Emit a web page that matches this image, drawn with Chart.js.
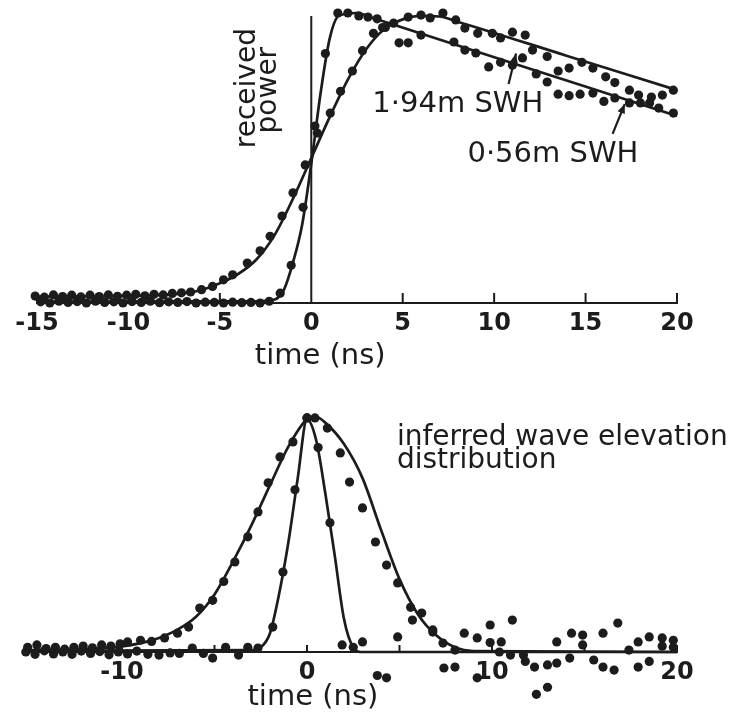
<!DOCTYPE html>
<html>
<head>
<meta charset="utf-8">
<script src="https://cdn.jsdelivr.net/npm/chart.js@4.4.1/dist/chart.umd.min.js"></script>
<style>
html,body{margin:0;padding:0;background:#fff;}
#wrap{position:relative;width:731px;height:714px;overflow:hidden;background:#fff;}
canvas{position:absolute;left:0;}
#c1{top:0;}
#c2{top:372px;}
</style>
</head>
<body>
<div id="wrap">
<canvas id="c1" width="731" height="372"></canvas>
<canvas id="c2" width="731" height="342"></canvas>
</div>
<script>
// ---------------- DATA ----------------
// time axis (ns)
const topTicks = [-15, -10, -5, 0, 5, 10, 15, 20];
const bottomTicks = [-10, 0, 10, 20];
const topTickMarks = [-15, -10, -5, 5, 10, 15, 20];
const bottomTickMarks = [-10, -5, 0, 5, 10, 15, 20];

// Upper panel: received power (normalised), [time ns, power]
const fit194 = [[-15,0.022],[-9,0.026],[-7,0.033],[-6,0.045],[-5,0.068],[-4,0.10],[-3,0.15],[-2,0.235],[-1,0.36],[0,0.50],[1,0.64],[2,0.77],[3,0.875],[4,0.945],[5,0.978],[6,0.99],[7,0.988],[8,0.97],[14,0.852],[20,0.734]];
const fit056 = [[-15,0.005],[-3,0.006],[-2,0.012],[-1.5,0.045],[-1,0.14],[-0.5,0.27],[0,0.48],[0.5,0.72],[1,0.91],[1.5,0.99],[2.5,1.0],[3.5,0.98],[12,0.807],[20,0.645]];
const dots194 = [[-15.1,0.024],[-14.6,0.02],[-14.1,0.028],[-13.6,0.022],[-13.1,0.027],[-12.6,0.021],[-12.1,0.027],[-11.6,0.022],[-11.1,0.028],[-10.6,0.023],[-10.1,0.027],[-9.6,0.03],[-9.1,0.025],[-8.6,0.03],[-8.1,0.028],[-7.6,0.033],[-7.1,0.035],[-6.6,0.038],[-6.0,0.046],[-5.4,0.057],[-4.8,0.08],[-4.3,0.097],[-3.5,0.138],[-2.8,0.18],[-2.25,0.23],[-1.6,0.30],[-1.0,0.38],[-0.33,0.476],[0.33,0.586],[1.04,0.655],[1.6,0.73],[2.25,0.80],[2.8,0.87],[3.4,0.93],[3.9,0.95],[4.5,0.965],[5.3,0.986],[6.0,0.993],[6.5,0.983],[7.2,1.0],[7.9,0.976],[8.4,0.948],[9.1,0.93],[9.9,0.93],[10.35,0.914],[11.0,0.934],[11.7,0.924],[12.1,0.872],[12.9,0.85],[13.5,0.80],[14.1,0.81],[14.8,0.83],[15.4,0.81],[16.1,0.78],[16.6,0.76],[17.4,0.734],[17.9,0.717],[18.6,0.71],[19.2,0.717],[19.8,0.734]];
const dots056 = [[-14.8,0.004],[-14.3,0.0],[-13.8,0.006],[-13.3,0.002],[-12.8,0.005],[-12.3,0.0],[-11.8,0.006],[-11.3,0.002],[-10.8,0.004],[-10.3,0.0],[-9.8,0.005],[-9.3,0.002],[-8.8,0.006],[-8.3,0.001],[-7.8,0.004],[-7.3,0.002],[-6.8,0.005],[-6.3,0.0],[-5.8,0.003],[-5.3,0.002],[-4.8,0.0],[-4.3,0.003],[-3.8,0.001],[-3.3,0.002],[-2.8,0.0],[-2.3,0.006],[-1.7,0.034],[-1.1,0.13],[-0.45,0.33],[0.2,0.61],[0.77,0.86],[1.45,1.0],[2.0,1.0],[2.6,0.99],[3.1,0.986],[3.6,0.98],[4.05,0.95],[4.8,0.897],[5.3,0.897],[6.0,0.924],[7.8,0.90],[8.4,0.872],[9.0,0.862],[9.7,0.814],[10.35,0.83],[11.0,0.82],[11.55,0.845],[12.3,0.79],[12.9,0.762],[13.5,0.72],[14.1,0.715],[14.7,0.72],[15.4,0.724],[16.0,0.695],[16.6,0.707],[17.4,0.69],[18.0,0.69],[18.5,0.69],[19.0,0.672],[19.8,0.655]];
const zeroLine = [[0,0],[0,0.99]];

// Lower panel: inferred wave elevation distribution, [time ns, density]
const fitBroad = [[-15,0.008],[-12,0.012],[-10,0.024],[-9,0.038],[-8,0.06],[-7,0.095],[-6,0.15],[-5,0.245],[-4,0.385],[-3,0.54],[-2,0.71],[-1,0.875],[0,0.99],[0.5,1.0],[1,0.975],[2,0.885],[3,0.74],[4,0.52],[5,0.31],[6,0.16],[7,0.07],[8,0.02],[9,0.004],[20,0.0]];
const fitNarrow = [[-15,0.005],[-3,0.008],[-2.5,0.02],[-2,0.08],[-1.5,0.25],[-1,0.47],[-0.5,0.74],[0,0.99],[0.5,0.9],[1,0.67],[1.5,0.41],[2,0.14],[2.5,0.02],[3,0.0],[20,0.0]];
const dotsBroad = [[-15.1,0.02],[-14.6,0.03],[-14.1,0.015],[-13.6,0.02],[-13.1,0.012],[-12.6,0.02],[-12.1,0.025],[-11.6,0.018],[-11.1,0.03],[-10.6,0.025],[-10.1,0.035],[-9.7,0.043],[-9.0,0.05],[-8.4,0.045],[-7.7,0.06],[-7.0,0.08],[-6.4,0.106],[-5.8,0.187],[-5.1,0.22],[-4.5,0.30],[-3.9,0.383],[-3.2,0.49],[-2.65,0.596],[-2.1,0.72],[-1.46,0.83],[-0.76,0.894],[0,0.996],[0.43,0.996],[1.1,0.953],[1.8,0.847],[2.3,0.723],[3.0,0.613],[3.7,0.468],[4.3,0.37],[4.9,0.294],[5.6,0.19],[5.7,0.136],[6.2,0.166],[6.8,0.094],[7.35,0.038],[8.0,0.008]];
const dotsNarrow = [[-15.2,0.0],[-14.7,-0.01],[-14.2,0.005],[-13.7,-0.008],[-13.2,0.0],[-12.7,-0.01],[-12.2,0.004],[-11.7,-0.006],[-11.2,0.002],[-10.7,-0.012],[-10.2,0.0],[-9.7,-0.008],[-9.2,0.004],[-8.6,-0.01],[-8.0,-0.013],[-7.4,-0.004],[-6.9,-0.006],[-6.2,0.017],[-5.6,-0.006],[-5.1,-0.026],[-4.4,0.02],[-3.7,-0.013],[-3.2,0.02],[-2.65,0.017],[-1.85,0.106],[-1.3,0.34],[-0.65,0.69],[0,0.996],[0.6,0.87],[1.24,0.55],[1.9,0.03],[2.5,0.02],[3.0,0.043],[3.8,-0.1],[4.3,-0.11],[4.9,0.064],[6.8,0.085],[7.4,-0.068],[8.0,-0.064],[8.5,0.08],[9.2,0.06],[9.2,-0.11],[9.9,0.115],[9.9,0.04],[10.4,0.0],[10.5,0.043],[11.1,0.136],[11.0,-0.013],[11.7,-0.013],[11.8,-0.04],[12.3,-0.064],[12.4,-0.18],[13.0,-0.055],[13.0,-0.15],[13.5,-0.047],[13.5,0.043],[14.2,-0.026],[14.3,0.08],[14.9,0.072],[14.9,0.03],[15.5,-0.034],[16.0,-0.064],[16.6,-0.077],[16.0,0.08],[16.8,0.123],[17.4,0.008],[17.9,0.043],[17.9,-0.064],[18.5,-0.04],[18.5,0.064],[19.2,0.06],[19.8,0.05],[19.2,0.025],[19.8,0.02]];

// ---------------- RENDERING ----------------
const INK = '#1c1c1c';
const FONT = "'DejaVu Sans', sans-serif";
const pts = a => a.map(([x, y]) => ({x, y}));

function lineDs(label, arr, w) {
  return {label, data: pts(arr), showLine: true, pointRadius: 0, borderColor: INK,
          borderWidth: w || 2.7, cubicInterpolationMode: 'monotone', clip: false, fill: false};
}
function dotDs(label, arr) {
  return {label, data: pts(arr), showLine: false, pointRadius: 4.6, pointHoverRadius: 4.6,
          pointBackgroundColor: INK, pointBorderWidth: 0, borderColor: INK, clip: false};
}

function decor(name, cfg) {
  return {
    id: 'decor_' + name,
    afterDatasetsDraw(chart) {
      const {ctx} = chart;
      const X = chart.scales.x, Y = chart.scales.y;
      ctx.save();
      ctx.strokeStyle = INK; ctx.fillStyle = INK;
      ctx.lineWidth = 2;
      const y0 = Y.getPixelForValue(0);
      cfg.tickMarks.forEach(v => {
        const px = X.getPixelForValue(v);
        ctx.beginPath(); ctx.moveTo(px, y0); ctx.lineTo(px, y0 - cfg.tickLen); ctx.stroke();
      });
      (cfg.arrows || []).forEach(a => {
        const x1 = X.getPixelForValue(a.from[0]), y1 = Y.getPixelForValue(a.from[1]);
        const x2 = X.getPixelForValue(a.to[0]), y2 = Y.getPixelForValue(a.to[1]);
        ctx.lineWidth = 2.2;
        ctx.beginPath(); ctx.moveTo(x1, y1); ctx.lineTo(x2, y2); ctx.stroke();
        const ang = Math.atan2(y2 - y1, x2 - x1), L = 10, W = 0.4;
        ctx.beginPath();
        ctx.moveTo(x2, y2);
        ctx.lineTo(x2 - L * Math.cos(ang - W), y2 - L * Math.sin(ang - W));
        ctx.lineTo(x2 - L * Math.cos(ang + W), y2 - L * Math.sin(ang + W));
        ctx.closePath(); ctx.fill();
      });
      cfg.texts.forEach(t => {
        const px = X.getPixelForValue(t.at[0]), py = Y.getPixelForValue(t.at[1]);
        ctx.save();
        ctx.font = (t.weight || 'normal') + ' ' + t.size + 'px ' + FONT;
        ctx.textAlign = t.align || 'left';
        ctx.textBaseline = 'alphabetic';
        ctx.translate(px, py);
        if (t.rot) ctx.rotate(t.rot);
        ctx.fillText(t.text, 0, 0);
        ctx.restore();
      });
      ctx.restore();
    }
  };
}

function makeChart(id, datasets, ticks, pad, yMin, axisH, plugin) {
  const xScale = {
    type: 'linear', min: -15, max: 20,
    afterBuildTicks: s => { s.ticks = ticks.map(v => ({value: v})); },
    grid: {display: false, drawTicks: false},
    border: {display: true, color: INK, width: 2},
    ticks: {color: INK, padding: 6, autoSkip: false, maxRotation: 0,
            font: {family: FONT, size: 24, weight: 'bold'},
            callback: v => String(v)}
  };
  if (axisH) {
    xScale.position = 'bottom';
    xScale.afterFit = s => { s.height = axisH; };
  } else {
    xScale.position = {y: 0};
  }
  return new Chart(document.getElementById(id), {
    type: 'scatter',
    data: {datasets},
    options: {
      responsive: false, animation: false, devicePixelRatio: 1,
      layout: {padding: pad},
      plugins: {legend: {display: false}, tooltip: {enabled: false}},
      events: [],
      scales: {
        x: xScale,
        y: {type: 'linear', min: yMin, max: 1, display: false}
      }
    },
    plugins: [plugin]
  });
}

makeChart('c1', [
  dotDs('1.94m SWH samples', dots194),
  dotDs('0.56m SWH samples', dots056),
  lineDs('1.94m SWH fit', fit194),
  lineDs('0.56m SWH fit', fit056),
  lineDs('t = 0', zeroLine, 2)
], topTicks, {left: 37, right: 54, top: 13, bottom: 0}, 0, 69, decor('top', {
  tickMarks: topTickMarks, tickLen: 10,
  arrows: [{from: [10.79, 0.755], to: [11.2, 0.86]}, {from: [16.48, 0.583], to: [17.14, 0.686]}],
  texts: [
    {text: 'received', at: [-3.07, 0.741], size: 28, align: 'center', rot: -Math.PI / 2},
    {text: 'power', at: [-1.92, 0.734], size: 28, align: 'center', rot: -Math.PI / 2},
    {text: '1·94m SWH', at: [3.34, 0.659], size: 29},
    {text: '0·56m SWH', at: [8.54, 0.486], size: 29},
    {text: 'time (ns)', at: [0.49, -0.21], size: 29, align: 'center'}
  ]
}));

makeChart('c2', [
  dotDs('1.94m SWH distribution samples', dotsBroad),
  dotDs('0.56m SWH distribution samples', dotsNarrow),
  lineDs('1.94m SWH distribution', fitBroad),
  lineDs('0.56m SWH distribution', fitNarrow)
], bottomTicks, {left: 29.5, right: 54, top: 45, bottom: 15}, -0.2, 0, decor('bottom', {
  tickMarks: bottomTickMarks, tickLen: 7,
  texts: [
    {text: 'inferred wave elevation', at: [4.86, 0.881], size: 28},
    {text: 'distribution', at: [4.86, 0.783], size: 28},
    {text: 'time (ns)', at: [0.32, -0.2255], size: 29, align: 'center'}
  ]
}));
</script>
</body>
</html>
